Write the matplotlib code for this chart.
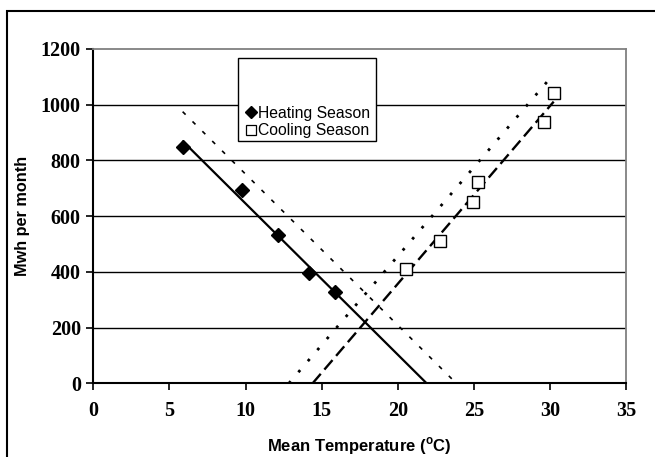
import matplotlib
matplotlib.use("Agg")
import matplotlib.pyplot as plt
from matplotlib.patches import Rectangle
from matplotlib.lines import Line2D

plt.rcParams['mathtext.fontset'] = 'custom'
plt.rcParams['mathtext.rm'] = 'Liberation Sans'
plt.rcParams['mathtext.bf'] = 'Liberation Sans:bold'
plt.rcParams['lines.scale_dashes'] = False

# Monthly consumption against mean temperature
heat_temp = [5.9, 9.8, 12.15, 14.2, 15.9]
heat_mwh = [849, 693, 532, 395, 329]
cool_temp = [20.55, 22.8, 24.95, 25.3, 29.6, 30.25]
cool_mwh = [410, 512, 650, 721, 939, 1041]

# Trend lines (end points) and the upper bound lines
heat_fit_x = [5.9, 21.9]
heat_fit_y = [868, 0]
heat_upper_x = [5.87, 23.85]
heat_upper_y = [975, 0]
cool_fit_x = [14.41, 30.25]
cool_fit_y = [0, 1011]
cool_upper_x = [12.85, 30.25]
cool_upper_y = [0, 1110]

x_ticks = [0, 5, 10, 15, 20, 25, 30, 35]
y_ticks = [0, 200, 400, 600, 800, 1000, 1200]

fig = plt.figure(figsize=(6.55, 4.57), dpi=100)
ax = fig.add_axes([93.3 / 655, 1 - 383.3 / 457, (626 - 93.3) / 655, (383.3 - 49) / 457])

# outer chart frame (cut off at the right and bottom)
fig.patches.append(Rectangle((7 / 655, -0.1), 1.1, (457 - 11) / 457 + 0.1,
                             transform=fig.transFigure, fill=False,
                             edgecolor='black', linewidth=1.5))

ax.set_xlim(0, 35)
ax.set_ylim(0, 1200)
ax.set_xticks(x_ticks)
ax.set_yticks(y_ticks)

for y in y_ticks[1:-1]:
    ax.axhline(y, color='black', linewidth=1.0, zorder=1)

ax.plot(heat_fit_x, heat_fit_y, color='black', linewidth=1.6, zorder=3)
ax.plot(heat_upper_x, heat_upper_y, color='black', linewidth=1.2,
        dashes=(3, 7), zorder=3)
ax.plot(cool_fit_x, cool_fit_y, color='black', linewidth=1.7,
        dashes=(9, 4), zorder=3)
ax.plot(cool_upper_x, cool_upper_y, color='black', linewidth=2.0,
        dashes=(2, 8.5), zorder=3)

ax.plot(heat_temp, heat_mwh, linestyle='none', marker='D', markersize=7.5,
        color='black', zorder=4)
ax.plot(cool_temp, cool_mwh, linestyle='none', marker='s', markersize=9,
        markerfacecolor='white', markeredgecolor='black', markeredgewidth=1.0,
        zorder=4)

for side in ['left', 'bottom']:
    ax.spines[side].set_color('black')
    ax.spines[side].set_linewidth(1.5)
for side in ['top', 'right']:
    ax.spines[side].set_color('#808080')
    ax.spines[side].set_linewidth(1.3)

ax.tick_params(axis='both', direction='out', length=5, width=1.2, color='black',
               labelsize=14.5)
ax.tick_params(axis='x', pad=8)
ax.tick_params(axis='y', pad=4)
for lab in ax.get_xticklabels() + ax.get_yticklabels():
    lab.set_fontfamily('Liberation Serif')
    lab.set_fontweight('bold')

ax.set_xlabel(r'Mean Temperature ($^{\mathbf{o}}$C)', fontfamily='Liberation Sans',
              fontweight='bold', fontsize=12, labelpad=10)
ax.set_ylabel('Mwh per month', fontfamily='Liberation Sans', fontweight='bold',
              fontsize=11.7, labelpad=8)

# legend box, with the entries sitting at its lower edge
fig.patches.append(Rectangle((237.5 / 655, 1 - 141 / 457), (375.5 - 237.5) / 655,
                             (141 - 58.3) / 457, transform=fig.transFigure,
                             facecolor='white', edgecolor='black', linewidth=1.0,
                             zorder=5))
handles = [
    Line2D([], [], linestyle='none', marker='D', markersize=6, color='black'),
    Line2D([], [], linestyle='none', marker='s', markersize=7,
           markerfacecolor='white', markeredgecolor='black', markeredgewidth=0.9),
]
leg = fig.legend(handles, ['Heating Season', 'Cooling Season'],
                 loc='upper left', bbox_to_anchor=(238 / 655, 1 - 98 / 457),
                 frameon=False, handlelength=0.7, handletextpad=0.1,
                 borderpad=0, labelspacing=0.15,
                 prop={'family': 'Liberation Sans', 'size': 11.3})
leg.set_zorder(6)

fig.savefig('out.png', dpi=100)
